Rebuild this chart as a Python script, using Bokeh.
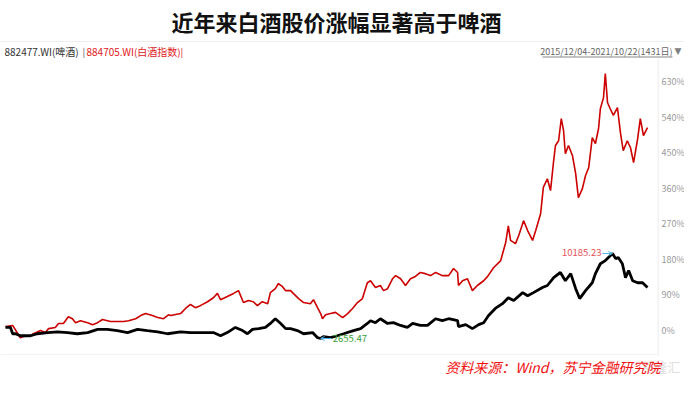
from bokeh.plotting import figure
from bokeh.layouts import column, row
from bokeh.models import Range1d, Label, Arrow, OpenHead, Span
from bokeh.core.properties import value
from bokeh.embed import file_html
from bokeh.resources import INLINE

# ---------------- data (trading-day index, % change) ----------------
red_days = [0, 16, 33, 40, 56, 62, 78, 89, 96, 111,
            118, 129, 140, 149, 156, 167, 183, 194, 205, 216,
            234, 249, 263, 274, 290, 301, 312, 327, 339, 352,
            363, 368, 390, 401, 412, 423, 434, 450, 463, 472,
            479, 494, 508, 519, 530, 541, 552, 561, 572, 584,
            590, 601, 608, 617, 624, 635, 641, 653, 664, 679,
            686, 695, 702, 706, 713, 724, 735, 751, 762, 773,
            784, 795, 806, 813, 824, 835, 842, 851, 862, 869,
            880, 891, 902, 913, 924, 935, 947, 958, 973, 987,
            998, 1007, 1009, 1018, 1029, 1040, 1051, 1065, 1074, 1087,
            1103, 1114, 1120, 1125, 1136, 1143, 1154, 1163, 1174, 1181,
            1192, 1198, 1207, 1214, 1221, 1225, 1232, 1238, 1243, 1247,
            1254, 1263, 1270, 1276, 1285, 1292, 1299, 1307, 1314, 1321,
            1325, 1332, 1336, 1341, 1347, 1354, 1363, 1370, 1376, 1385,
            1392, 1399, 1408, 1414, 1421, 1430]
red_pct = [10, 13, -18, -15, -13, -8, 0, -5, 5, 8,
           18, 18, 35, 30, 20, 25, 20, 15, 20, 28,
           23, 23, 23, 25, 30, 38, 43, 38, 33, 30,
           40, 38, 43, 56, 66, 58, 63, 73, 83, 94,
           78, 86, 94, 101, 71, 76, 73, 63, 73, 68,
           96, 106, 119, 111, 101, 101, 94, 81, 71, 68,
           78, 58, 43, 30, 40, 43, 46, 33, 43, 56,
           71, 81, 121, 126, 109, 114, 101, 106, 131, 139,
           131, 114, 131, 137, 147, 144, 139, 147, 139, 139,
           157, 147, 114, 126, 131, 101, 114, 126, 137, 159,
           177, 222, 265, 228, 220, 240, 278, 253, 228, 253,
           296, 362, 384, 354, 430, 468, 480, 536, 506, 447,
           468, 442, 397, 336, 359, 392, 412, 488, 473, 511,
           561, 589, 650, 576, 561, 544, 564, 498, 455, 480,
           463, 425, 485, 536, 493, 513]

black_days = [0, 11, 16, 22, 33, 56, 71, 94, 116, 138,
              160, 183, 205, 227, 249, 272, 294, 316, 339, 361,
              390, 412, 434, 463, 479, 494, 512, 528, 539, 550,
              564, 579, 590, 601, 613, 624, 635, 650, 664, 684,
              695, 702, 708, 724, 739, 753, 775, 791, 806, 813,
              824, 835, 851, 864, 880, 895, 907, 924, 940, 958,
              973, 987, 1007, 1009, 1025, 1040, 1054, 1065, 1076, 1091,
              1107, 1120, 1132, 1152, 1163, 1176, 1196, 1207, 1221, 1236,
              1247, 1259, 1270, 1279, 1292, 1307, 1314, 1325, 1336, 1343,
              1352, 1359, 1365, 1374, 1381, 1388, 1397, 1408, 1419, 1430]
black_pct = [8, 8, -8, -8, -13, -13, -8, -5, -3, -5,
             -8, -5, 3, 3, 0, -5, 3, 0, -3, -8,
             -3, -5, -5, -5, -13, -5, 8, 0, -8, 3,
             5, 8, 18, 30, 18, 5, 5, 0, -8, -5,
             -18, -20, -15, -18, -13, -8, 0, 5, 18, 25,
             20, 30, 18, 20, 13, 8, 18, 13, 13, 30,
             25, 30, 25, 10, 15, 5, 15, 20, 38, 56,
             68, 83, 76, 96, 88, 96, 109, 114, 134, 147,
             126, 144, 106, 81, 101, 121, 144, 169, 177, 185,
             195, 182, 185, 169, 134, 152, 126, 121, 121, 109]

y_ticks = [0, 90, 180, 270, 360, 450, 540, 630]
y_tick_labels = ["0%", "90%", "180%", "270%", "360%", "450%", "540%", "630%"]

title_text = "近年来白酒股价涨幅显著高于啤酒"
beer_name = "882477.WI(啤酒)"
baijiu_name = "884705.WI(白酒指数)"
date_text = "2015/12/04-2021/10/22(1431日)"
max_label = "10185.23"
min_label = "2655.47"
source_text = "资料来源：Wind，苏宁金融研究院"
mark_text = "格隆汇"

CJK = "Noto Sans CJK SC"
W = 684


def panel(w, h, x_range=None, y_range=None):
    f = figure(width=w, height=h, output_backend="svg", toolbar_location=None,
               x_range=x_range or Range1d(0, w), y_range=y_range or Range1d(0, h),
               x_axis_location=None, y_axis_location=None, title=None,
               min_border=0, outline_line_color=None,
               background_fill_color="white", border_fill_color="white")
    f.grid.visible = False
    return f


def lab(f, x, y, text, **kw):
    kw.setdefault("text_font", CJK)
    kw.setdefault("text_baseline", "middle")
    f.add_layout(Label(x=x, y=y, text=text, **kw))


def hline(f, x0, x1, y, color, width=1):
    f.add_layout(Arrow(end=None, x_start=x0, y_start=y, x_end=x1, y_end=y,
                       line_color=color, line_width=width))


# ---------------- header ----------------
TH = 58
top = panel(W, TH)
lab(top, 336, 38, title_text, text_align="center", text_font_size="22px",
    text_font_style="bold", text_color="#111111")
hline(top, 0, W, 17, "#eeeeee")
lab(top, 4, 7, beer_name, text_font_size="10px", text_color="#333333")
lab(top, 82, 7, "|", text_font_size="10px", text_color="#555555")
lab(top, 86, 7, baijiu_name, text_font_size="10px", text_color="#e02020")
lab(top, 180, 7, "|", text_font_size="10px", text_color="#e02020")
lab(top, 672, 7, date_text, text_align="right", text_font_size="9px", text_color="#666666")
hline(top, 542, 672, 1.5, "#888888")
lab(top, 674, 8, "▼", text_font="DejaVu Sans", text_font_size="9px", text_color="#808080")

# ---------------- main chart ----------------
FW, FH = 657, 297
dpp = 1430 / 642
X0, X1 = -5 * dpp, (FW - 5) * dpp
Y0, Y1 = -63, 688
yr = Range1d(Y0, Y1)

p = panel(FW, FH, x_range=Range1d(X0, X1), y_range=yr)
p.line(red_days, red_pct, line_color="#cc0000", line_width=1.6)
p.line(black_days, black_pct, line_color="black", line_width=2.8)
p.add_layout(Arrow(end=None, x_start=0, y_start=0.5, x_end=FW, y_end=0.5,
                   start_units="screen", end_units="screen",
                   line_color="#e6e6e6", line_width=1))

imax = black_pct.index(max(black_pct))
mx, my = black_days[imax], black_pct[imax]
p.add_layout(Label(x=mx, y=my, x_offset=-11, y_offset=1, text=max_label, text_align="right",
                   text_baseline="middle", text_font=CJK, text_font_size="9.5px",
                   text_color="#e5505a"))
p.add_layout(Arrow(x_start=mx - 10 * dpp, y_start=my, x_end=mx, y_end=my,
                   line_color="#4fb3e0", line_width=1,
                   end=OpenHead(size=4, line_color="#4fb3e0", line_width=1)))

imin = black_pct.index(min(black_pct))
nx, ny = black_days[imin], black_pct[imin]
p.add_layout(Label(x=nx, y=ny, x_offset=12, text=min_label, text_align="left",
                   text_baseline="middle", text_font=CJK, text_font_size="9.5px",
                   text_color="#3aa03a"))
p.add_layout(Arrow(x_start=nx + 11 * dpp, y_start=ny, x_end=nx, y_end=ny,
                   line_color="#4fb3e0", line_width=1,
                   end=OpenHead(size=4, line_color="#4fb3e0", line_width=1)))

# right-hand value scale, sharing the chart's y range
SW = W - FW
side = panel(SW, FH, x_range=Range1d(0, SW), y_range=yr)
side.add_layout(Span(location=0.5, dimension="height", line_color="#e6e6e6", line_width=1))
side.text(x=[4] * len(y_ticks), y=y_ticks, text=y_tick_labels,
          text_font=value(CJK), text_font_size="9px", text_color="#9a9a9a",
          text_align="left", text_baseline="middle")

# ---------------- footer ----------------
BH = 22
bot = panel(W, BH)
lab(bot, 641, 11, mark_text, text_font_size="13px", text_color="#cfcfcf", text_alpha=0.7)
lab(bot, 660, 11, source_text, text_align="right", text_font_size="14px",
    text_font_style="italic", text_color="#f01010")

layout = column(top, row(p, side, spacing=0), bot, spacing=0)
open("out.html", "w").write(file_html(layout, INLINE))
